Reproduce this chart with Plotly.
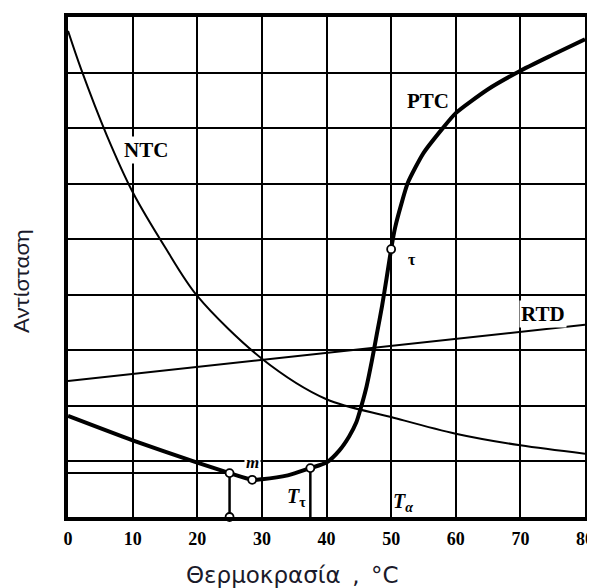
import plotly.graph_objects as go

# ---- data (temperature in °C, resistance in grid units) ----
temps_ntc = [0, 2, 6, 10, 15, 20, 30, 40, 50, 60, 70, 80]
r_ntc = [8.75, 8.07, 6.87, 5.85, 4.86, 3.98, 2.85, 2.12, 1.8, 1.5, 1.29, 1.14]

temps_rtd = [0, 80]
r_rtd = [2.45, 3.46]

temps_ptc = [0, 10, 20, 25, 28.5, 30, 34, 37.5, 40, 42, 43.5, 44.6, 45.4, 46.2, 47.0,
             47.8, 48.6, 49.3, 50, 50.6, 51.5, 52.6, 55, 58, 60, 65, 69.8, 75, 80]
r_ptc = [1.82, 1.38, 0.98, 0.79, 0.67, 0.68, 0.75, 0.88, 0.98, 1.2, 1.45, 1.7, 2.0, 2.35, 2.8,
         3.3, 3.8, 4.3, 4.82, 5.2, 5.6, 6.02, 6.55, 7.0, 7.27, 7.7, 8.02, 8.32, 8.6]

t25, r25 = 25, 0.79
t_m, r_m = 28.5, 0.67
t_tr, r_tr = 37.5, 0.88
t_tau, r_tau = 50, 4.82

x_ticks = [0, 10, 20, 30, 40, 50, 60, 70, 80]

fig = go.Figure()

fig.add_trace(go.Scatter(x=temps_ntc, y=r_ntc, mode="lines",
                         line=dict(color="black", width=2, shape="spline", smoothing=0.9)))
fig.add_trace(go.Scatter(x=temps_rtd, y=r_rtd, mode="lines",
                         line=dict(color="black", width=2)))
# R25 construction lines
fig.add_trace(go.Scatter(x=[0, t25], y=[r25, r25], mode="lines",
                         line=dict(color="black", width=2)))
fig.add_trace(go.Scatter(x=[t25, t25], y=[0, r25], mode="lines",
                         line=dict(color="black", width=2.5)))
fig.add_trace(go.Scatter(x=[t_tr, t_tr], y=[0, r_tr], mode="lines",
                         line=dict(color="black", width=2.5)))
fig.add_trace(go.Scatter(x=temps_ptc, y=r_ptc, mode="lines",
                         line=dict(color="black", width=4, shape="spline", smoothing=0.6)))
fig.add_trace(go.Scatter(x=[t25, t25, t_m, t_tr, t_tau], y=[0, r25, r_m, r_tr, r_tau],
                         mode="markers", cliponaxis=False,
                         marker=dict(size=8, color="white", line=dict(color="black", width=1.8))))

axis_common = dict(showgrid=True, gridcolor="black", gridwidth=2, zeroline=False,
                   showline=True, linecolor="black", linewidth=4, mirror=True)

# the page body adds an 8px offset; margins compensate so the plot area sits at 68..585 x 13..517
fig.update_layout(
    width=595, height=588,
    margin=dict(l=60, r=18, t=5, b=79),
    paper_bgcolor="white", plot_bgcolor="white",
    showlegend=False,
    xaxis=dict(range=[0, 80], tickvals=x_ticks, ticktext=[str(t) for t in x_ticks],
               ticks="outside", ticklen=2, tickcolor="rgba(0,0,0,0)",
               tickfont=dict(family="Liberation Serif", size=18, color="black", weight="bold"),
               **axis_common),
    yaxis=dict(range=[0, 9], dtick=1, showticklabels=False, **axis_common),
)

serif_b = dict(family="Liberation Serif", size=21, color="black", weight="bold")
ann = [
    dict(x=12.07, y=6.61, text="NTC", font=serif_b, bgcolor="white", borderpad=1),
    dict(x=55.7, y=7.48, text="PTC", font=serif_b, bgcolor="white", borderpad=1),
    dict(x=73.5, y=3.66, text="RTD", font=serif_b, bgcolor="white", borderpad=1),
    dict(x=53.2, y=4.64, text="τ", font=dict(family="Liberation Serif", size=16, color="black", weight="bold")),
    dict(x=28.5, y=0.98, text="<i>m</i>", font=dict(family="Liberation Serif", size=17, color="black", weight="bold"),
         bgcolor="white", borderpad=1),
    dict(x=35.3, y=0.36, text="<i>T</i><sub>τ</sub>", font=dict(family="Liberation Serif", size=20, color="black", weight="bold")),
    dict(x=51.8, y=0.27, text="<i>T</i><sub><i>α</i></sub>", font=dict(family="Liberation Serif", size=20, color="black", weight="bold")),
    dict(x=-5.9, y=0.70, text="<i>R</i><sub>25</sub>", font=dict(family="Liberation Serif", size=20, color="black", weight="bold")),
    dict(xref="paper", yref="paper", x=(292 - 68) / 517, y=(517 - 575) / 504,
         text="Θερμοκρασία\u2002,\u2002°C", font=dict(family="DejaVu Sans", size=23, color="#1a1a2a")),
    dict(xref="paper", yref="paper", x=(21 - 68) / 517, y=(517 - 280) / 504,
         text="Αντίσταση", textangle=-90, font=dict(family="Lato", size=22, color="#1a1a2a")),
]
for a in ann:
    a.setdefault("showarrow", False)
    a.setdefault("xanchor", "center")
    a.setdefault("yanchor", "middle")
fig.update_layout(annotations=ann)

fig.write_html("out.html")
